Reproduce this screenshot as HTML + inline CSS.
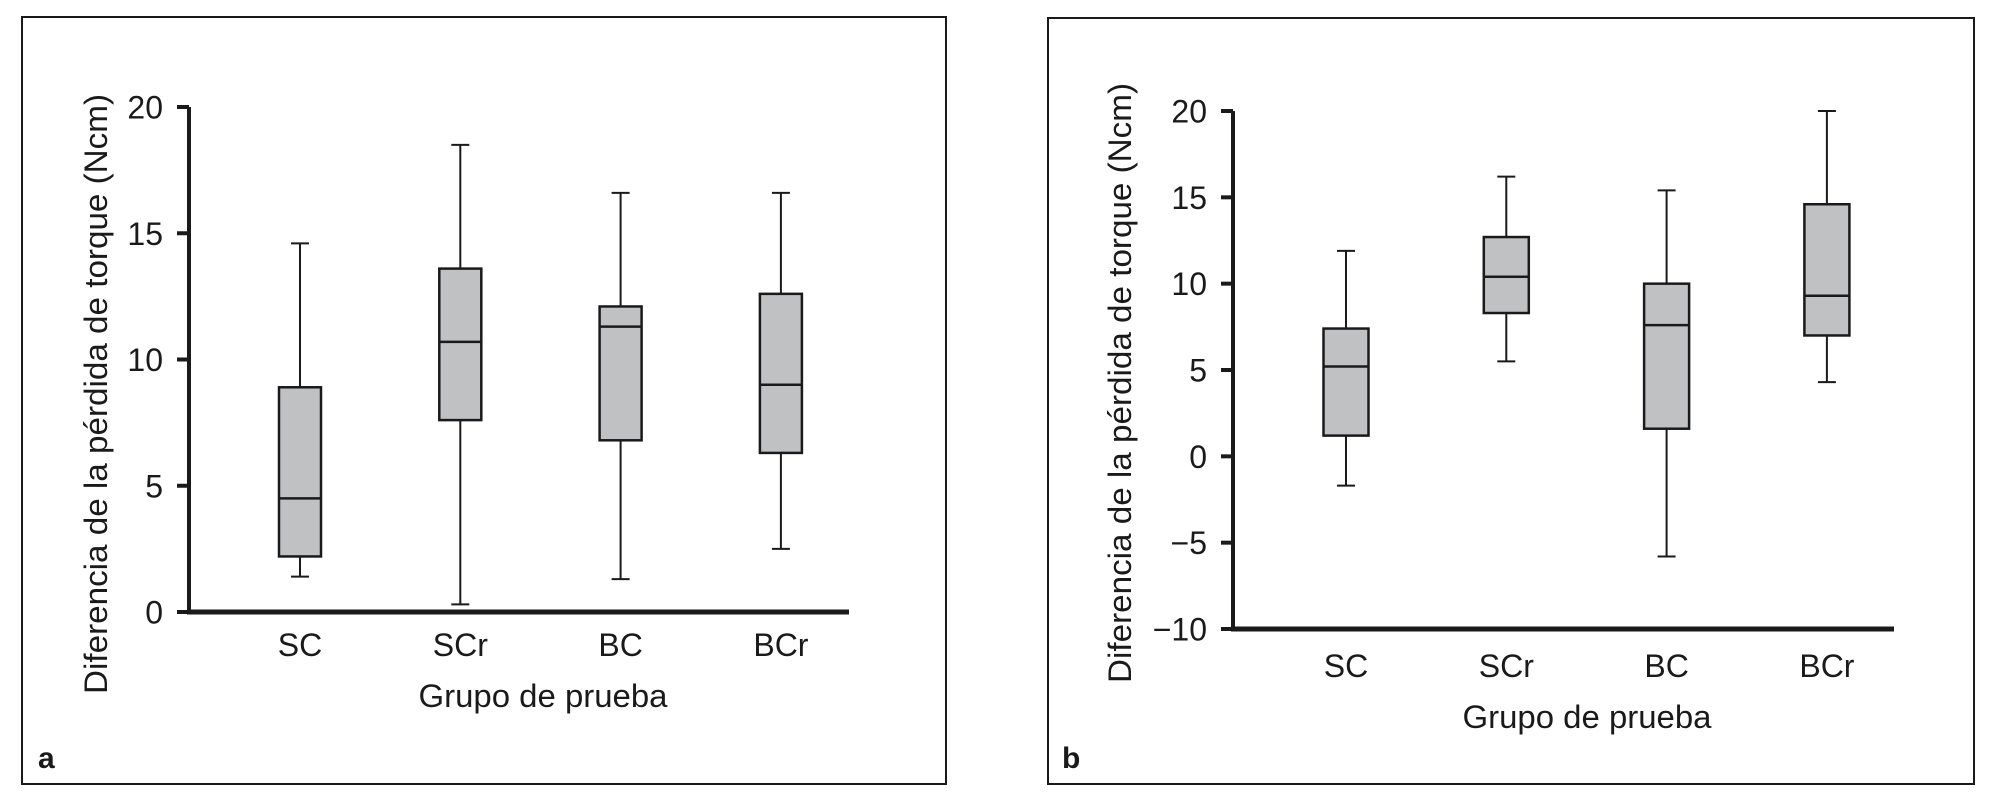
<!DOCTYPE html>
<html><head><meta charset="utf-8"><style>
body{margin:0;background:#fff;}
svg{display:block;font-family:"Liberation Sans",Arial,sans-serif;}
</style></head><body>
<svg id="fig" width="1995" height="800" viewBox="0 0 1995 800">
<rect x="22" y="17" width="924" height="767" fill="none" stroke="#1a1a1a" stroke-width="2"/>
<rect x="1048" y="18" width="926" height="766" fill="none" stroke="#1a1a1a" stroke-width="2"/>
<text x="38" y="768" font-size="30" font-weight="bold" fill="#1a1a1a">a</text>
<text x="1062" y="768" font-size="30" font-weight="bold" fill="#1a1a1a">b</text>
</svg>
<script>
const categories = ["SC","SCr","BC","BCr"];
const aMin = [1.4, 0.3, 1.3, 2.5];
const aQ1 = [2.2, 7.6, 6.8, 6.3];
const aMed = [4.5, 10.7, 11.3, 9.0];
const aQ3 = [8.9, 13.6, 12.1, 12.6];
const aMax = [14.6, 18.5, 16.6, 16.6];
const aTicks = [0, 5, 10, 15, 20];
const bMin = [-1.7, 5.5, -5.8, 4.3];
const bQ1 = [1.2, 8.3, 1.6, 7.0];
const bMed = [5.2, 10.4, 7.6, 9.3];
const bQ3 = [7.4, 12.7, 10.0, 14.6];
const bMax = [11.9, 16.2, 15.4, 20.0];
const bTicks = [-10, -5, 0, 5, 10, 15, 20];

const NS = "http://www.w3.org/2000/svg";
const svg = document.getElementById("fig");
function mk(tag, attrs, parent){
  const e = document.createElementNS(NS, tag);
  for (const k in attrs) e.setAttribute(k, attrs[k]);
  (parent||svg).appendChild(e);
  return e;
}
function drawChart(p){
  const g = mk("g", {});
  
  
  const y = v => p.y0 - (v - p.vmin) * (p.y0 - p.y1) / (p.vmax - p.vmin);
  const bandW = p.step;
  const x = i => p.firstX + i * bandW;
  const ya = mk("line", {x1:p.ax, y1:y(p.vmax), x2:p.ax, y2:p.y0+2, stroke:"#1a1a1a","stroke-width":4}, g);
  
  
  const xa = mk("line", {x1:p.ax-2, y1:p.y0, x2:p.axEnd, y2:p.y0, stroke:"#1a1a1a","stroke-width":5}, g);
  
  
  p.ticks.forEach(t => {
    const tl = mk("line", {x1:p.ax-12, y1:y(t), x2:p.ax, y2:y(t), stroke:"#1a1a1a","stroke-width":4}, g);
    
    
    const tx = mk("text", {x:p.ax-26, y:y(t)+11.5, "font-size":32, "text-anchor":"end", fill:"#1a1a1a"}, g);
    tx.textContent = t < 0 ? "\u2212" + Math.abs(t) : String(t);
    
    
  });
  categories.forEach((c, i) => {
    const cx = x(i), hw = p.boxW/2, cw = 9;
    const wl = mk("line", {x1:cx, y1:y(p.max[i]), x2:cx, y2:y(p.min[i]), stroke:"#1a1a1a","stroke-width":2}, g);
    
    
    [p.max[i], p.min[i]].forEach(v => {
      const cap = mk("line", {x1:cx-cw, y1:y(v), x2:cx+cw, y2:y(v), stroke:"#1a1a1a","stroke-width":2}, g);
      
      
    });
    const bx = mk("rect", {x:cx-hw, y:y(p.q3[i]), width:p.boxW, height:y(p.q1[i])-y(p.q3[i]), fill:"#c0c1c3", stroke:"#1a1a1a","stroke-width":2.5}, g);
    
    
    const md = mk("line", {x1:cx-hw, y1:y(p.med[i]), x2:cx+hw, y2:y(p.med[i]), stroke:"#1a1a1a","stroke-width":2.5}, g);
    
    
    const lb = mk("text", {x:cx, y:p.catY, "font-size":32, "text-anchor":"middle", fill:"#1a1a1a"}, g);
    lb.textContent = c;
    
    
  });
  const xt = mk("text", {x:p.xtX, y:p.xtY, "font-size":32, "text-anchor":"middle", fill:"#1a1a1a", textLength:249, lengthAdjust:"spacingAndGlyphs"}, g);
  xt.textContent = "Grupo de prueba";
  
  
  const yt = mk("text", {x:0, y:0, "font-size":32, "text-anchor":"middle", fill:"#1a1a1a", textLength:600, lengthAdjust:"spacingAndGlyphs", transform:"translate("+p.ytX+","+p.ytY+") rotate(-90)"}, g);
  yt.textContent = "Diferencia de la pérdida de torque (Ncm)";
  
  
}
drawChart({id:"chart-a", ax:189, axEnd:849, y0:612, y1:107, vmin:0, vmax:20, ticks:aTicks,
  firstX:300, step:160.3, boxW:42, min:aMin, q1:aQ1, med:aMed, q3:aQ3, max:aMax,
  catY:656, xtX:543, xtY:707, ytX:107, ytY:394});
drawChart({id:"chart-b", ax:1233, axEnd:1894, y0:629, y1:111, vmin:-10, vmax:20, ticks:bTicks,
  firstX:1346, step:160.3, boxW:45, min:bMin, q1:bQ1, med:bMed, q3:bQ3, max:bMax,
  catY:677, xtX:1587, xtY:728, ytX:1131, ytY:383});
</script>
</body></html>
